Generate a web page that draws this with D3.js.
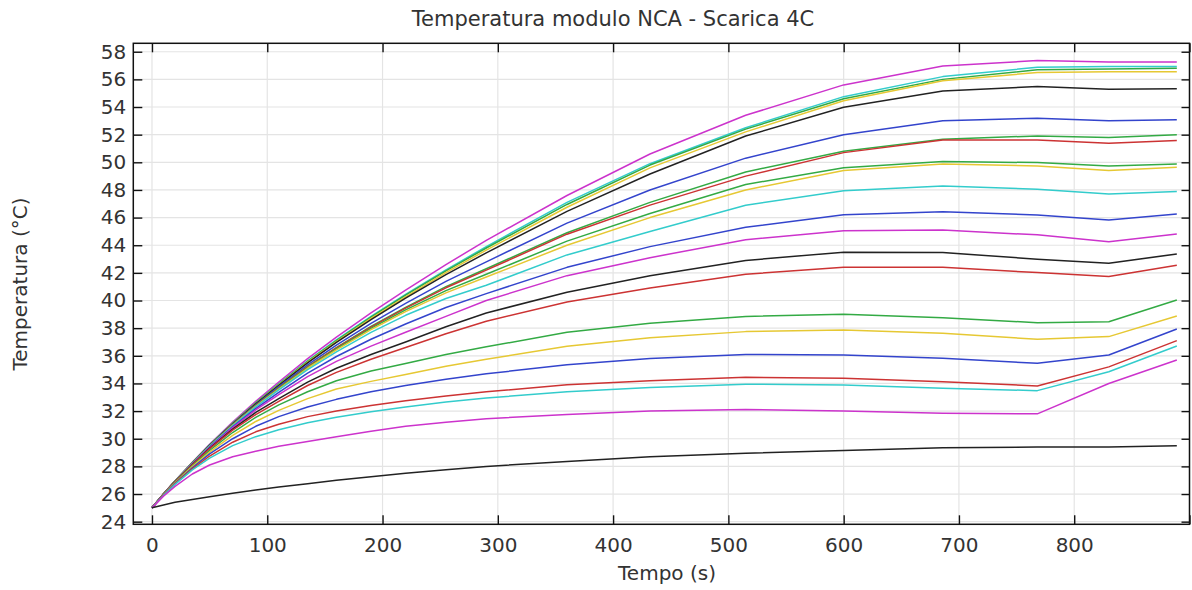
<!DOCTYPE html>
<html><head><meta charset="utf-8">
<script src="https://cdn.jsdelivr.net/npm/d3@7"></script>
<style>
body{margin:0;background:#fff}
text{font-family:"DejaVu Sans",sans-serif;fill:#333}
</style></head>
<body><svg id="c" width="1192" height="590"></svg>
<script>
const times=[0,10,20,35,50,70,90,110,135,160,190,220,255,290,360,432,515,600,686,768,830,889];
const s01=[25,26.0,26.95,28.3,29.6,31.2,32.7,34.1,35.8,37.35,39.1,40.75,42.6,44.35,47.6,50.6,53.4,55.6,56.97,57.36,57.25,57.25];
const s02=[25,26.0,26.95,28.28,29.56,31.13,32.6,33.97,35.63,37.15,38.85,40.45,42.22,43.9,47.1,49.9,52.5,54.75,56.2,56.88,56.93,56.93];
const s03=[25,26.0,26.95,28.27,29.55,31.12,32.58,33.94,35.6,37.1,38.8,40.39,42.15,43.8,46.95,49.8,52.4,54.6,56.0,56.7,56.75,56.8];
const s04=[25,26.0,26.94,28.26,29.53,31.1,32.55,33.9,35.54,37.03,38.7,40.27,42.02,43.65,46.75,49.6,52.2,54.45,55.9,56.5,56.55,56.56];
const s05=[25,26.0,26.94,28.25,29.52,31.08,32.52,33.86,35.49,36.97,38.62,40.17,41.88,43.45,46.45,49.15,51.9,53.98,55.16,55.48,55.29,55.33];
const s06=[25,25.99,26.93,28.24,29.5,31.04,32.46,33.77,35.35,36.78,38.35,39.8,41.38,42.8,45.6,48.0,50.3,52.0,53.0,53.19,53.0,53.07];
const s07=[25,25.99,26.93,28.23,29.48,31.0,32.4,33.68,35.22,36.6,38.12,39.51,41.0,42.3,44.9,47.1,49.3,50.8,51.67,51.91,51.8,52.0];
const s08=[25,25.99,26.93,28.23,29.48,31.0,32.4,33.67,35.2,36.57,38.08,39.45,40.92,42.2,44.8,46.9,49.0,50.7,51.62,51.62,51.38,51.57];
const s09=[25,25.99,26.92,28.22,29.47,30.98,32.37,33.63,35.15,36.5,37.98,39.32,40.72,41.9,44.3,46.3,48.4,49.6,50.05,49.98,49.74,49.88];
const s10=[25,25.99,26.92,28.22,29.46,30.97,32.35,33.6,35.1,36.43,37.9,39.2,40.55,41.7,44.0,46.0,48.0,49.4,49.88,49.74,49.4,49.64];
const s11=[25,25.99,26.92,28.21,29.45,30.94,32.3,33.53,35.0,36.29,37.7,38.93,40.15,41.1,43.3,45.0,46.9,47.95,48.29,48.05,47.71,47.88];
const s12=[25,25.99,26.91,28.19,29.4,30.86,32.18,33.36,34.75,35.95,37.2,38.3,39.5,40.5,42.4,43.9,45.3,46.2,46.43,46.19,45.83,46.26];
const s13=[25,25.98,26.9,28.17,29.37,30.8,32.08,33.2,34.5,35.6,36.7,37.7,38.85,40.0,41.8,43.1,44.4,45.05,45.1,44.75,44.26,44.82];
const s14=[25,25.98,26.89,28.14,29.31,30.7,31.9,32.9,34.1,35.1,36.1,37.0,38.1,39.1,40.6,41.8,42.9,43.5,43.47,42.99,42.7,43.37];
const s15=[25,25.98,26.88,28.12,29.27,30.62,31.75,32.7,33.85,34.8,35.75,36.6,37.6,38.5,39.9,40.9,41.9,42.4,42.4,42.02,41.73,42.55];
const s16=[25,25.95,26.85,28.05,29.15,30.45,31.55,32.45,33.4,34.2,34.9,35.45,36.1,36.65,37.7,38.35,38.85,39.0,38.75,38.4,38.47,40.04];
const s17=[25,25.94,26.82,27.98,29.03,30.25,31.25,32.05,32.9,33.6,34.15,34.65,35.25,35.75,36.7,37.3,37.75,37.87,37.63,37.2,37.39,38.88];
const s18=[25,25.93,26.78,27.9,28.9,30.0,30.9,31.6,32.3,32.85,33.4,33.85,34.3,34.7,35.35,35.8,36.1,36.06,35.82,35.46,36.06,37.94];
const s19=[25,25.92,26.75,27.82,28.75,29.75,30.5,31.05,31.6,32.0,32.4,32.75,33.1,33.4,33.9,34.2,34.45,34.38,34.13,33.82,35.2,37.1];
const s20=[25,25.9,26.7,27.75,28.6,29.5,30.15,30.65,31.15,31.55,31.95,32.3,32.65,32.95,33.4,33.7,33.95,33.89,33.65,33.48,34.85,36.71];
const s21=[25,25.85,26.55,27.45,28.1,28.7,29.1,29.45,29.8,30.15,30.55,30.9,31.2,31.45,31.75,32.0,32.12,32.0,31.85,31.8,34.0,35.7];
const s22=[25,25.2,25.4,25.6,25.8,26.05,26.3,26.5,26.75,27.0,27.25,27.5,27.75,28.0,28.35,28.7,28.95,29.15,29.35,29.4,29.4,29.5];
const seriesList=[s01,s02,s03,s04,s05,s06,s07,s08,s09,s10,s11,s12,s13,s14,s15,s16,s17,s18,s19,s20,s21,s22];
const seriesColors=["#cc33cc","#33cccc","#33aa44","#e6c833","#222222","#3344cc","#33aa44","#cc3333",
  "#33aa44","#e6c833","#33cccc","#3344cc","#cc33cc","#222222","#cc3333","#33aa44","#e6c833","#3344cc",
  "#cc3333","#33cccc","#cc33cc","#222222"];
const xTicks=[0,100,200,300,400,500,600,700,800,900];
const xLabels=["0","100","200","300","400","500","600","700","800",""];
const yTicks=[24,26,28,30,32,34,36,38,40,42,44,46,48,50,52,54,56,58];
const titleText="Temperatura modulo NCA - Scarica 4C";
const xTitle="Tempo (s)";
const yTitle="Temperatura (°C)";

const L=133.3,R=1189.5,T=43.3,B=524.3;
const svg=d3.select("#c");
const x=d3.scaleLinear().domain([-16.2,900]).range([L,R]);
const y=d3.scaleLinear().domain([23.81,58.61]).range([B,T]);

// grid
const g=svg.append("g");
g.selectAll(".vg").data(xTicks).join("line").attr("x1",d=>x(d)).attr("x2",d=>x(d))
 .attr("y1",T).attr("y2",B).attr("stroke","#e4e4e4").attr("stroke-width",1.2);
g.selectAll(".hg").data(yTicks).join("line").attr("y1",d=>y(d)).attr("y2",d=>y(d))
 .attr("x1",L).attr("x2",R).attr("stroke","#e4e4e4").attr("stroke-width",1.2);

// lines
const line=d3.line().x((d,i)=>x(times[i])).y(d=>y(d));
svg.append("g").selectAll("path").data(seriesList).join("path")
 .attr("d",line).attr("fill","none").attr("stroke",(d,i)=>seriesColors[i]).attr("stroke-width",1.5)
 .attr("stroke-linejoin","round");

// axes
const ax=d3.axisBottom(x).tickValues(xTicks).tickFormat((d,i)=>xLabels[i]).tickSizeInner(-9).tickSizeOuter(0).tickPadding(14);
const axg=svg.append("g").attr("transform",`translate(0,${B})`).call(ax);
const at=d3.axisTop(x).tickValues(xTicks).tickFormat("").tickSizeInner(-9).tickSizeOuter(0);
const atg=svg.append("g").attr("transform",`translate(0,${T})`).call(at);
const ay=d3.axisLeft(y).tickValues(yTicks).tickFormat(d3.format("d")).tickSizeInner(-9).tickSizeOuter(0).tickPadding(7);
const ayg=svg.append("g").attr("transform",`translate(${L},0)`).call(ay);
const ar=d3.axisRight(y).tickValues(yTicks).tickFormat("").tickSizeInner(-8).tickSizeOuter(0);
const arg=svg.append("g").attr("transform",`translate(${R},0)`).call(ar);
[axg,atg,ayg,arg].forEach(a=>{a.select(".domain").remove();a.selectAll("line").attr("stroke","#111").attr("stroke-width",1.4);
  a.selectAll("text").style("font-family","DejaVu Sans").style("font-size","20px").attr("fill","#333");});

svg.append("rect").attr("x",L).attr("y",T).attr("width",R-L).attr("height",B-T)
 .attr("fill","none").attr("stroke","#111").attr("stroke-width",1.5);

svg.append("text").attr("x",613).attr("y",26).attr("text-anchor","middle").style("font-size","21px").text(titleText);
svg.append("text").attr("x",667).attr("y",580).attr("text-anchor","middle").style("font-size","20px").text(xTitle);
svg.append("text").attr("transform","translate(27,284) rotate(-90)").attr("text-anchor","middle").style("font-size","20px").text(yTitle);
</script></body></html>
